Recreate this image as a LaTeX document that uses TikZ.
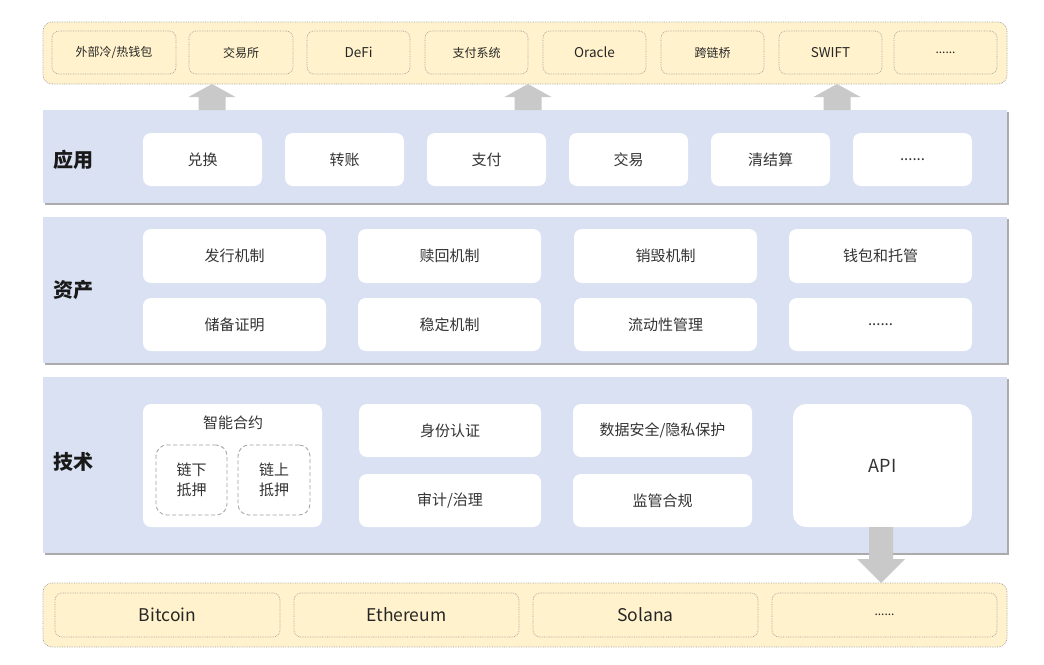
\documentclass[tikz,border=0pt]{standalone}
\usepackage{fontspec}
\setmainfont{Noto Sans CJK SC}
\usetikzlibrary{shadows}
\definecolor{bandblue}{HTML}{D9E1F2}
\definecolor{bandyellow}{HTML}{FFF2CC}
\definecolor{dotgray}{HTML}{A0A0A0}
\definecolor{arrowgray}{HTML}{C9C9C9}
\definecolor{txt}{HTML}{333333}
\begin{document}
\begin{tikzpicture}[x=1pt,y=-1pt,
  every node/.style={inner sep=0pt, outer sep=0pt, text=txt},
  band/.style={fill=bandblue, minimum width=964pt,
    drop shadow={shadow xshift=2pt, shadow yshift=-2pt, fill=black!55, opacity=0.6}},
  yband/.style={fill=bandyellow, draw=dotgray, densely dotted, line width=0.7pt,
    rounded corners=9pt, minimum width=964pt},
  ybox/.style={fill=bandyellow, draw=dotgray, densely dotted, line width=0.7pt,
    rounded corners=7pt, minimum height=43pt, text=black!85},
  wbox/.style={fill=white, rounded corners=8pt, font=\fontsize{15}{18}\selectfont},
  dbox/.style={draw=dotgray, dash pattern=on 4pt off 2.5pt, line width=0.8pt,
    rounded corners=11pt, minimum width=71pt, minimum height=70pt,
    align=center, font=\fontsize{15}{20}\selectfont},
  lbl/.style={font=\bfseries\fontsize{20}{24}\selectfont, text=black!90},
  tcj/.style={font=\fontsize{12}{14}\selectfont},
  tla/.style={font=\fontsize{13.5}{16}\selectfont},
  bla/.style={font=\fontsize{17.5}{20}\selectfont},
  arr/.style={fill=arrowgray}
]
\useasboundingbox[fill=white] (0,0) rectangle (1044,664);

% ---------- top band ----------
\node[yband, minimum height=62pt] (top) at (525,53) {};
\node[ybox, minimum width=124pt, tcj] (t1) at (114,52.5) {外部冷/热钱包};
\node[ybox, minimum width=104pt, tcj] (t2) at (241,52.5) {交易所};
\node[ybox, minimum width=103pt, tla] (t3) at (358.5,52.5) {DeFi};
\node[ybox, minimum width=103pt, tcj] (t4) at (476.5,52.5) {支付系统};
\node[ybox, minimum width=103pt, tla] (t5) at (594.5,52.5) {Oracle};
\node[ybox, minimum width=103pt, tcj] (t6) at (712.5,52.5) {跨链桥};
\node[ybox, minimum width=103pt, tla] (t7) at (830.5,52.5) {SWIFT};
\node[ybox, minimum width=103pt, tcj] (t8) at (945.5,52.5) {......};

% ---------- band 1 : 应用 ----------
\node[band, minimum height=93pt] (b1) at (525,156.5) {};
\node[lbl] (l1) at (73,160) {应用};
\node[wbox, minimum width=119pt, minimum height=53pt] (a1) at (202.5,159.5) {兑换};
\node[wbox, minimum width=119pt, minimum height=53pt] (a2) at (344.5,159.5) {转账};
\node[wbox, minimum width=119pt, minimum height=53pt] (a3) at (486.5,159.5) {支付};
\node[wbox, minimum width=119pt, minimum height=53pt] (a4) at (628.5,159.5) {交易};
\node[wbox, minimum width=119pt, minimum height=53pt] (a5) at (770.5,159.5) {清结算};
\node[wbox, minimum width=119pt, minimum height=53pt] (a6) at (912.5,159.5) {......};

% ---------- band 2 : 资产 ----------
\node[band, minimum height=146pt] (b2) at (525,290) {};
\node[lbl] (l2) at (73,290) {资产};
\node[wbox, minimum width=183pt, minimum height=54pt] (s1) at (234.5,256) {发行机制};
\node[wbox, minimum width=183pt, minimum height=54pt] (s2) at (449.5,256) {赎回机制};
\node[wbox, minimum width=183pt, minimum height=54pt] (s3) at (665.5,256) {销毁机制};
\node[wbox, minimum width=183pt, minimum height=54pt] (s4) at (880.5,256) {钱包和托管};
\node[wbox, minimum width=183pt, minimum height=53pt] (s5) at (234.5,324.5) {储备证明};
\node[wbox, minimum width=183pt, minimum height=53pt] (s6) at (449.5,324.5) {稳定机制};
\node[wbox, minimum width=183pt, minimum height=53pt] (s7) at (665.5,324.5) {流动性管理};
\node[wbox, minimum width=183pt, minimum height=53pt] (s8) at (880.5,324.5) {......};

% ---------- band 3 : 技术 ----------
\node[band, minimum height=176pt] (b3) at (525,465) {};
\node[lbl] (l3) at (73,462) {技术};
\node[wbox, minimum width=179pt, minimum height=123pt] (sc) at (232.5,465.5) {};
\node[font=\fontsize{15}{18}\selectfont] (sct) at (233,423) {智能合约};
\node[dbox] (off) at (191.5,480) {链下\\抵押};
\node[dbox, minimum width=72pt] (on) at (274,480) {链上\\抵押};
\node[wbox, minimum width=182pt, minimum height=53pt] (k1) at (450,430.5) {身份认证};
\node[wbox, minimum width=182pt, minimum height=53pt] (k2) at (450,500.5) {审计/治理};
\node[wbox, minimum width=179pt, minimum height=53pt] (k3) at (662.5,430.5) {数据安全/隐私保护};
\node[wbox, minimum width=179pt, minimum height=53pt] (k4) at (662.5,500.5) {监管合规};
\node[wbox, rounded corners=13pt, minimum width=179pt, minimum height=123pt,
      font=\fontsize{18}{20}\selectfont] (api) at (882.5,465.5) {API};

% ---------- bottom band ----------
\node[yband, minimum height=64pt] (bot) at (525,615) {};
\node[ybox, minimum width=225pt, minimum height=44pt, bla] (c1) at (167.5,615) {Bitcoin};
\node[ybox, minimum width=225pt, minimum height=44pt, bla] (c2) at (406.5,615) {Ethereum};
\node[ybox, minimum width=225pt, minimum height=44pt, bla] (c3) at (645.5,615) {Solana};
\node[ybox, minimum width=225pt, minimum height=44pt, tcj] (c4) at (884.5,615) {......};

% ---------- fat arrows ----------
\coordinate (u1) at (212,0);
\coordinate (u2) at (528,0);
\coordinate (u3) at (837,0);
\coordinate (d1) at (881,0);
\foreach \u in {u1,u2,u3}{
  \fill[arr] (b1.north -| \u) ++(-13.5,0) -- ++(0,-13) -- ++(-10,0)
    -- (top.south -| \u) -- ++(23.5,13) -- ++(-10,0) -- ++(0,13) -- cycle;
}
\fill[arr] (api.south -| d1) ++(-12,0) -- ++(0,32) -- ++(-12,0)
  -- (bot.north -| d1) -- ++(24,-24) -- ++(-12,0) -- ++(0,-32) -- cycle;
\end{tikzpicture}
\end{document}
